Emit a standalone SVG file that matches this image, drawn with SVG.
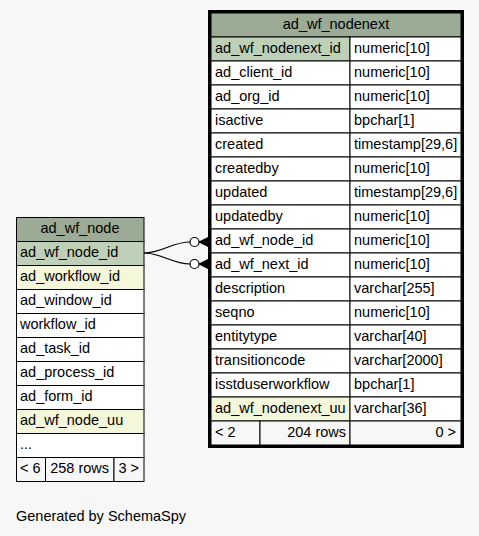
<svg xmlns="http://www.w3.org/2000/svg" width="479" height="536" viewBox="0 0 479 536">
<style>
text{font-family:"Liberation Sans",Arial,sans-serif;font-size:14.5px;fill:#000}
.c{stroke:#000;stroke-width:1}
.h{fill:#9bab96}
.pk{fill:#bed1b8}
.ix{fill:#f4f7da}
.w{fill:#ffffff}
.f{fill:#f7f7f7}
.m{text-anchor:middle}
.e{text-anchor:end}
.edge{fill:none;stroke:#000;stroke-width:1.2}
</style>
<rect x="0" y="0" width="479" height="536" fill="#f7f7f7"/>
<g id="connectors">
<path class="edge" d="M144,253 C162,253 172,242 190,242"/>
<path class="edge" d="M144,253 C162,253 172,264 190,264"/>
<circle cx="194.5" cy="242" r="4.5" fill="#fff" stroke="#000" stroke-width="1.2"/>
<circle cx="194.5" cy="264" r="4.5" fill="#fff" stroke="#000" stroke-width="1.2"/>
<polygon points="209,237 199,242 209,247" fill="#000" stroke="#000"/>
<polygon points="209,259 199,264 209,269" fill="#000" stroke="#000"/>
</g>
<g id="ad_wf_nodenext">
<rect class="c h" x="211" y="13" width="250" height="24"/>
<text class="m" x="336" y="29">ad_wf_nodenext</text>
<rect class="c pk" x="211" y="37" width="139" height="24"/><rect class="c w" x="350" y="37" width="111" height="24"/>
<text x="215" y="53">ad_wf_nodenext_id</text><text x="354" y="53">numeric[10]</text>
<rect class="c w" x="211" y="61" width="139" height="24"/><rect class="c w" x="350" y="61" width="111" height="24"/>
<text x="215" y="77">ad_client_id</text><text x="354" y="77">numeric[10]</text>
<rect class="c w" x="211" y="85" width="139" height="24"/><rect class="c w" x="350" y="85" width="111" height="24"/>
<text x="215" y="101">ad_org_id</text><text x="354" y="101">numeric[10]</text>
<rect class="c w" x="211" y="109" width="139" height="24"/><rect class="c w" x="350" y="109" width="111" height="24"/>
<text x="215" y="125">isactive</text><text x="354" y="125">bpchar[1]</text>
<rect class="c w" x="211" y="133" width="139" height="24"/><rect class="c w" x="350" y="133" width="111" height="24"/>
<text x="215" y="149">created</text><text x="354" y="149">timestamp[29,6]</text>
<rect class="c w" x="211" y="157" width="139" height="24"/><rect class="c w" x="350" y="157" width="111" height="24"/>
<text x="215" y="173">createdby</text><text x="354" y="173">numeric[10]</text>
<rect class="c w" x="211" y="181" width="139" height="24"/><rect class="c w" x="350" y="181" width="111" height="24"/>
<text x="215" y="197">updated</text><text x="354" y="197">timestamp[29,6]</text>
<rect class="c w" x="211" y="205" width="139" height="24"/><rect class="c w" x="350" y="205" width="111" height="24"/>
<text x="215" y="221">updatedby</text><text x="354" y="221">numeric[10]</text>
<rect class="c w" x="211" y="229" width="139" height="24"/><rect class="c w" x="350" y="229" width="111" height="24"/>
<text x="215" y="245">ad_wf_node_id</text><text x="354" y="245">numeric[10]</text>
<rect class="c w" x="211" y="253" width="139" height="24"/><rect class="c w" x="350" y="253" width="111" height="24"/>
<text x="215" y="269">ad_wf_next_id</text><text x="354" y="269">numeric[10]</text>
<rect class="c w" x="211" y="277" width="139" height="24"/><rect class="c w" x="350" y="277" width="111" height="24"/>
<text x="215" y="293">description</text><text x="354" y="293">varchar[255]</text>
<rect class="c w" x="211" y="301" width="139" height="24"/><rect class="c w" x="350" y="301" width="111" height="24"/>
<text x="215" y="317">seqno</text><text x="354" y="317">numeric[10]</text>
<rect class="c w" x="211" y="325" width="139" height="24"/><rect class="c w" x="350" y="325" width="111" height="24"/>
<text x="215" y="341">entitytype</text><text x="354" y="341">varchar[40]</text>
<rect class="c w" x="211" y="349" width="139" height="24"/><rect class="c w" x="350" y="349" width="111" height="24"/>
<text x="215" y="365">transitioncode</text><text x="354" y="365">varchar[2000]</text>
<rect class="c w" x="211" y="373" width="139" height="24"/><rect class="c w" x="350" y="373" width="111" height="24"/>
<text x="215" y="389">isstduserworkflow</text><text x="354" y="389">bpchar[1]</text>
<rect class="c ix" x="211" y="397" width="139" height="24"/><rect class="c w" x="350" y="397" width="111" height="24"/>
<text x="215" y="413">ad_wf_nodenext_uu</text><text x="354" y="413">varchar[36]</text>
<rect class="c f" x="211" y="421" width="49" height="24"/><rect class="c f" x="260" y="421" width="90" height="24"/><rect class="c f" x="350" y="421" width="111" height="24"/>
<text x="215" y="437">&lt; 2</text><text class="e" x="346" y="437">204 rows</text><text class="e" x="456" y="437">0 &gt;</text>
<rect x="209.5" y="11.5" width="253" height="435" fill="none" stroke="#000" stroke-width="3"/>
</g>
<g id="ad_wf_node">
<rect class="c h" x="16.5" y="217.5" width="127.5" height="24"/>
<text class="m" x="80" y="233">ad_wf_node</text>
<rect class="c pk" x="16.5" y="241.5" width="127.5" height="24"/><text x="20" y="257">ad_wf_node_id</text>
<rect class="c ix" x="16.5" y="265.5" width="127.5" height="24"/><text x="20" y="281">ad_workflow_id</text>
<rect class="c w" x="16.5" y="289.5" width="127.5" height="24"/><text x="20" y="305">ad_window_id</text>
<rect class="c w" x="16.5" y="313.5" width="127.5" height="24"/><text x="20" y="329">workflow_id</text>
<rect class="c w" x="16.5" y="337.5" width="127.5" height="24"/><text x="20" y="353">ad_task_id</text>
<rect class="c w" x="16.5" y="361.5" width="127.5" height="24"/><text x="20" y="377">ad_process_id</text>
<rect class="c w" x="16.5" y="385.5" width="127.5" height="24"/><text x="20" y="401">ad_form_id</text>
<rect class="c ix" x="16.5" y="409.5" width="127.5" height="24"/><text x="20" y="425">ad_wf_node_uu</text>
<rect class="c w" x="16.5" y="433.5" width="127.5" height="24"/><text x="20" y="449">...</text>
<rect class="c f" x="16.5" y="457.5" width="29" height="24"/><rect class="c f" x="45.5" y="457.5" width="68.5" height="24"/><rect class="c f" x="114" y="457.5" width="30" height="24"/>
<text x="20" y="473">&lt; 6</text><text class="e" x="109" y="473">258 rows</text><text class="e" x="139" y="473">3 &gt;</text>
</g>
<text x="16" y="521">Generated by SchemaSpy</text>
</svg>
